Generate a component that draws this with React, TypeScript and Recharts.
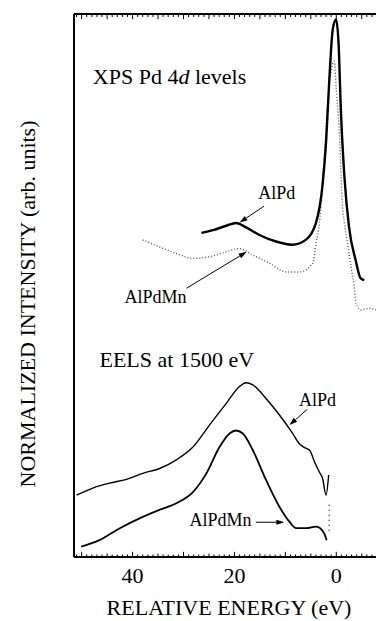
import {
  LineChart,
  Line,
  XAxis,
  YAxis,
  ReferenceLine,
  ReferenceDot,
} from "recharts";

const FONT = "'Liberation Serif', 'Times New Roman', serif";

// XPS Pd 4d, AlPd (solid)
const xpsAlPdEnergy = [26.5, 24.2, 21.6, 19.7, 17.7, 15.1, 11.8, 8.6, 6.0, 4.0, 2.7, 2.0, 1.4, 0.7, 0.05, -0.45, -0.9, -1.6, -2.5, -3.8, -4.8, -5.5];
const xpsAlPdInt = [59.7, 60.2, 61.0, 61.5, 60.7, 59.3, 58.1, 57.5, 58.4, 61.5, 68.5, 76.5, 87.3, 97.1, 99.0, 94.6, 82.3, 70.0, 60.8, 54.7, 51.3, 51.0];

// XPS Pd 4d, AlPdMn (dotted)
const xpsAlPdMnEnergy = [38, 34.7, 31.4, 28.1, 24.9, 21.6, 19, 16.4, 13.1, 9.9, 7.3, 4.6, 4.0, 3.3, 2.7, 2.2, 1.7, 1.2, 0.7, 0.4, -0.05, -0.45, -0.7, -0.9, -1.1, -1.6, -2.2, -2.9, -3.5, -3.9, -4.8, -6.5, -7.8];
const xpsAlPdMnInt = [58.4, 57.1, 55.9, 55.0, 55.3, 56.2, 56.8, 55.6, 54.1, 52.5, 52.5, 54.1, 57.7, 61.5, 68.8, 76.2, 83.5, 88.5, 90.9, 91.3, 85.4, 80.5, 76.2, 71.3, 66.4, 61.5, 57.8, 53.5, 49.8, 46.7, 45.5, 45.8, 45.5];

// EELS at 1500 eV, AlPd
const eelsAlPdEnergy = [51, 47.8, 44.5, 41.2, 38, 34.7, 31.4, 28.1, 24.9, 21.6, 19, 17.7, 16.4, 13.8, 11.2, 8.6, 7.3, 6.3, 5.2, 4.3, 3.3, 2.7, 2.0, 1.5];
const eelsAlPdInt = [11.4, 12.7, 13.6, 14.3, 15.4, 16.3, 17.9, 20.3, 24.3, 28.3, 31.4, 32.1, 31.7, 29.2, 26.2, 22.8, 20.9, 20.2, 19.6, 17.6, 15.6, 14.5, 11.4, 15.1];

// EELS at 1500 eV, AlPdMn
const eelsAlPdMnEnergy = [50.1, 46.5, 42.5, 38, 34.7, 31.4, 28.1, 25.5, 22.9, 20.9, 19.7, 18.4, 16.4, 13.8, 11.2, 9.2, 7.9, 5.9, 3.9, 2.4, 1.9];
const eelsAlPdMnInt = [1.9, 3.1, 5.3, 7.4, 8.7, 9.9, 12.0, 15.4, 20.3, 22.8, 23.3, 22.8, 19.7, 14.2, 9.3, 6.5, 5.3, 5.3, 5.6, 4.4, 3.1];

// dotted connector between the two EELS traces near 0 eV
const eelsGapEnergy = [1.4, 1.4];
const eelsGapInt = [9.6, 4.6];

const tickLabels = [40, 20, 0];
const minorTicks = Array.from({ length: 59 }, (_, i) => i - 7);

const DOMAIN: [number, number] = [-7.8, 51.5];
const Y_TOP = 100;
const Y_BOTTOM = 0;

const zip = (e: number[], v: number[]) => e.map((x, i) => ({ e: x, v: v[i] }));

const arrowShape = (p: any) => {
  const { x1, y1, x2, y2 } = p;
  const a = Math.atan2(y2 - y1, x2 - x1);
  const L = 8;
  const W = 2.6;
  const bx = x2 - L * Math.cos(a);
  const by = y2 - L * Math.sin(a);
  const pts = `${x2},${y2} ${bx - W * Math.sin(a)},${by + W * Math.cos(a)} ${bx + W * Math.sin(a)},${by - W * Math.cos(a)}`;
  return (
    <g>
      <line x1={x1} y1={y1} x2={bx} y2={by} stroke="#000" strokeWidth={1} />
      <polygon points={pts} fill="#000" />
    </g>
  );
};

const plainShape = (w: number) => (p: any) => (
  <line x1={p.x1} y1={p.y1} x2={p.x2} y2={p.y2} stroke="#000" strokeWidth={w} />
);
const frameShape = plainShape(2);
const tickShape = plainShape(1);

const textLabel = (parts: { t: string; i?: boolean }[], size: number) => (p: any) => {
  const { x, y } = p.viewBox;
  return (
    <text x={x} y={y} fontFamily={FONT} fontSize={size} fill="#000">
      {parts.map((s, k) => (
        <tspan key={k} fontStyle={s.i ? "italic" : "normal"}>{s.t}</tspan>
      ))}
    </text>
  );
};

const BottomTickLabel = (p: any) => {
  const v = p.payload.value;
  if (!tickLabels.includes(v)) return <g />;
  return (
    <text x={p.x} y={p.y + 26} textAnchor="middle" fontFamily={FONT} fontSize={22} fill="#000">
      {v}
    </text>
  );
};

// tick marks pointing into the frame (lengths in y units, ~5.43 px per unit)
const bottomTickLen = (v: number) => (v % 10 === 0 ? 0.95 : v % 5 === 0 ? 0.65 : 0.46);
const topTickLen = (v: number) => (v % 5 === 0 ? 0.95 : 0.55);

const labels = [
  { e: 47.8, v: 87.1, parts: [{ t: "XPS Pd 4" }, { t: "d", i: true }, { t: " levels" }], size: 22 },
  { e: 15.3, v: 65.9, parts: [{ t: "AlPd" }], size: 18 },
  { e: 41.6, v: 46.8, parts: [{ t: "AlPdMn" }], size: 18 },
  { e: 46.5, v: 35.0, parts: [{ t: "EELS at 1500 eV" }], size: 22 },
  { e: 7.3, v: 27.8, parts: [{ t: "AlPd" }], size: 18 },
  { e: 28.8, v: 5.7, parts: [{ t: "AlPdMn" }], size: 18 },
];

const arrows = [
  [{ x: 14.2, y: 64.6 }, { x: 19.0, y: 61.6 }],
  [{ x: 29.4, y: 49.5 }, { x: 17.6, y: 56.2 }],
  [{ x: 5.7, y: 27.2 }, { x: 9.2, y: 24.3 }],
  [{ x: 15.8, y: 6.4 }, { x: 10.2, y: 6.4 }],
];

export default function App() {
  return (
    <div style={{ position: "absolute", left: 0, top: 0, width: 376, height: 621, background: "#fff" }}>
      <LineChart width={376} height={621} data={zip(eelsAlPdEnergy, eelsAlPdInt)} margin={{ top: 14, right: 0, bottom: 63, left: 73 }}>
        <XAxis
          xAxisId="b"
          type="number"
          dataKey="e"
          domain={DOMAIN}
          reversed
          ticks={minorTicks}
          interval={0}
          height={1}
          tickSize={0}
          tickMargin={0}
          tickLine={false}
          tick={<BottomTickLabel />}
          axisLine={{ stroke: "#000", strokeWidth: 2 }}
          label={{
            content: (p: any) => (
              <text x={229} y={p.viewBox.y + 58} textAnchor="middle" fontFamily={FONT} fontSize={22} fill="#000">
                RELATIVE ENERGY (eV)
              </text>
            ),
          }}
        />
        <YAxis
          type="number"
          domain={[Y_BOTTOM, Y_TOP]}
          width={1}
          tick={false}
          tickLine={false}
          axisLine={{ stroke: "#000", strokeWidth: 2 }}
          label={{
            content: () => (
              <text x={35} y={304} transform="rotate(-90, 35, 304)" textAnchor="middle" fontFamily={FONT} fontSize={22} fill="#000">
                NORMALIZED INTENSITY (arb. units)
              </text>
            ),
          }}
        />
        <Line xAxisId="b" data={zip(xpsAlPdMnEnergy, xpsAlPdMnInt)} dataKey="v" type="monotone" stroke="#555" strokeWidth={1.4} strokeDasharray="1 2" dot={false} isAnimationActive={false} />
        <Line xAxisId="b" data={zip(xpsAlPdEnergy, xpsAlPdInt)} dataKey="v" type="monotone" stroke="#000" strokeWidth={2.4} dot={false} isAnimationActive={false} />
        <Line xAxisId="b" dataKey="v" type="monotone" stroke="#000" strokeWidth={1.4} dot={false} isAnimationActive={false} />
        <Line xAxisId="b" data={zip(eelsAlPdMnEnergy, eelsAlPdMnInt)} dataKey="v" type="monotone" stroke="#000" strokeWidth={1.8} dot={false} isAnimationActive={false} />
        <Line xAxisId="b" data={zip(eelsGapEnergy, eelsGapInt)} dataKey="v" type="linear" stroke="#000" strokeWidth={1.2} strokeDasharray="1 4" dot={false} isAnimationActive={false} />
        {/* frame top / bottom */}
        <ReferenceLine xAxisId="b" segment={[{ x: DOMAIN[1], y: Y_TOP }, { x: DOMAIN[0], y: Y_TOP }]} shape={frameShape} ifOverflow="visible" />
        <ReferenceLine xAxisId="b" segment={[{ x: DOMAIN[1], y: Y_BOTTOM }, { x: DOMAIN[0], y: Y_BOTTOM }]} shape={frameShape} ifOverflow="visible" />
        {minorTicks.map((t) => (
          <ReferenceLine key={`bt${t}`} xAxisId="b" segment={[{ x: t, y: Y_BOTTOM }, { x: t, y: Y_BOTTOM + bottomTickLen(t) }]} shape={tickShape} ifOverflow="visible" />
        ))}
        {minorTicks.map((t) => (
          <ReferenceLine key={`tt${t}`} xAxisId="b" segment={[{ x: t, y: Y_TOP }, { x: t, y: Y_TOP - topTickLen(t) }]} shape={tickShape} ifOverflow="visible" />
        ))}
        {arrows.map((seg, i) => (
          <ReferenceLine key={`a${i}`} xAxisId="b" segment={seg} shape={arrowShape} />
        ))}
        {labels.map((l, i) => (
          <ReferenceDot key={`l${i}`} xAxisId="b" x={l.e} y={l.v} r={0} fill="none" stroke="none" label={{ content: textLabel(l.parts, l.size) }} />
        ))}
      </LineChart>
    </div>
  );
}
